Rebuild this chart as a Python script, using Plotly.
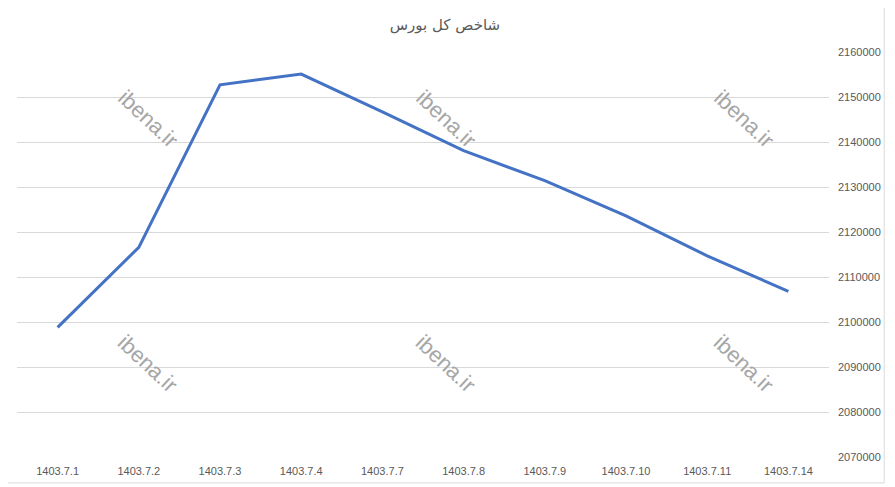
import plotly.graph_objects as go

# Daily values of the Tehran stock exchange total index
dates = ['1403.7.1', '1403.7.2', '1403.7.3', '1403.7.4', '1403.7.7',
         '1403.7.8', '1403.7.9', '1403.7.10', '1403.7.11', '1403.7.14']
index_values = [2098800, 2116600, 2152700, 2155100, 2146700,
                2138100, 2131400, 2123600, 2114700, 2106800]
y_ticks = [2070000, 2080000, 2090000, 2100000, 2110000,
           2120000, 2130000, 2140000, 2150000, 2160000]

title_text = 'شاخص کل بورس'
watermark = 'ibena.ir'

fig = go.Figure()
fig.add_trace(go.Scatter(x=dates, y=index_values, mode='lines',
                         line=dict(color='#4472C4', width=3),
                         hoverinfo='x+y'))

# watermark texts, placed in paper coords
for wx in [0.161, 0.528, 0.895]:
    for wy in [0.835, 0.232]:
        fig.add_annotation(text=watermark, x=wx, y=wy, xref='paper', yref='paper',
                           xanchor='center', yanchor='middle',
                           showarrow=False, textangle=43,
                           font=dict(family='Liberation Sans', size=22, color='#A6A6A6'))

# chart area border (Excel style)
fig.add_shape(type='rect', xref='paper', yref='paper',
              x0=-0.017, x1=1.068, y0=-0.064, y1=1.118,
              line=dict(color='#D9D9D9', width=1), layer='below')

# page body adds ~8px offset, margins compensate for that
fig.update_layout(
    width=895, height=487,
    margin=dict(l=9, r=74, t=44, b=38),
    paper_bgcolor='white', plot_bgcolor='white',
    showlegend=False,
    title=dict(text=title_text, x=0.527, xref='paper', xanchor='center',
               y=0.965, yanchor='middle',
               font=dict(family='DejaVu Sans', size=15, color='#595959')),
    xaxis=dict(type='category', showgrid=False, zeroline=False, showline=False,
               ticks='', range=[-0.5, 9.5], ticklabelstandoff=6,
               tickfont=dict(family='Liberation Sans', size=11, color='#595959')),
    yaxis=dict(side='right', range=[2070000, 2160000], tickvals=y_ticks,
               showgrid=True, gridcolor='#D9D9D9', gridwidth=1, zeroline=False,
               showline=False, ticks='', ticklabelstandoff=8,
               tickformat='d',
               tickfont=dict(family='Liberation Sans', size=11, color='#595959')),
)

fig.write_html("out.html")
